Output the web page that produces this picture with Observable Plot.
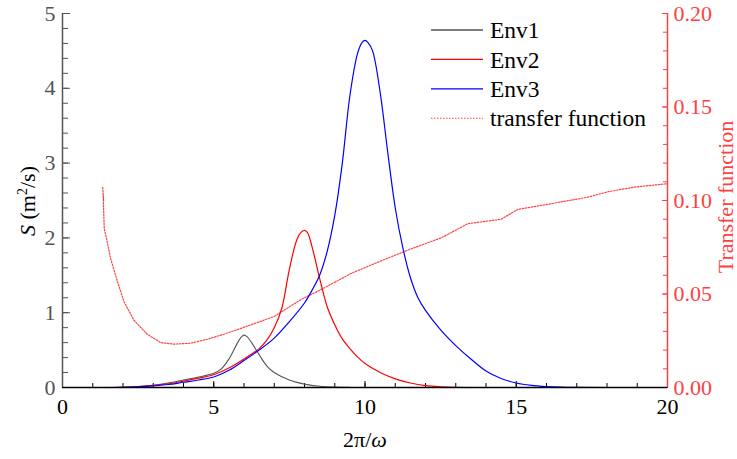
<!DOCTYPE html>
<html><head><meta charset="utf-8">
<script src="https://cdn.jsdelivr.net/npm/d3@7"></script>
<script src="https://cdn.jsdelivr.net/npm/@observablehq/plot@0.6"></script>
<style>
body{margin:0;background:#fff}
svg, svg text, svg tspan{font-family:"Liberation Serif","Times New Roman",serif !important}
</style>
</head><body><div id="chart"></div>
<script>
// ---- data ----
const env1X = [1.3,2,2.5,3,3.5,4,4.5,5,5.25,5.5,5.75,5.9,6,6.1,6.25,6.5,6.75,7,7.5,8,8.5,9,9.5,10,11];
const env1S = [0,0.003,0.012,0.03,0.06,0.1,0.14,0.19,0.25,0.38,0.57,0.67,0.70,0.68,0.60,0.44,0.29,0.2,0.1,0.045,0.016,0.005,0.001,0,0];

const env2X = [1.3,2,2.5,3,3.5,4,4.5,5,5.5,6,6.5,6.75,7,7.25,7.5,7.75,7.9,8,8.1,8.25,8.5,8.75,9,9.25,9.5,9.75,10,10.5,11,11.5,12,12.5,13,14];
const env2S = [0,0.003,0.012,0.028,0.05,0.085,0.125,0.17,0.26,0.38,0.52,0.63,0.8,1.06,1.58,1.98,2.08,2.1,2.07,1.88,1.46,1.08,0.84,0.65,0.52,0.41,0.32,0.2,0.115,0.06,0.025,0.01,0.003,0];

const env3X = [1.3,2,2.5,3,3.5,4,4.5,5,5.5,6,6.5,7,7.5,8,8.25,8.5,8.75,9,9.25,9.5,9.75,9.9,10,10.1,10.25,10.5,10.75,11,11.25,11.5,11.75,12,12.5,13,13.5,14,14.5,15,15.5,16,16.5,17,18,20];
const env3S = [0,0.002,0.009,0.022,0.04,0.07,0.1,0.14,0.23,0.36,0.5,0.66,0.88,1.13,1.3,1.5,1.82,2.3,3.0,3.9,4.46,4.61,4.64,4.61,4.5,3.95,3.15,2.4,1.87,1.47,1.2,1.03,0.77,0.56,0.38,0.22,0.12,0.06,0.028,0.012,0.004,0.001,0,0];

const tfX = [1.33,1.36,1.34,1.36,1.37,1.38,1.45,1.59,1.81,2.03,2.36,2.8,3.25,3.69,4.24,4.79,5.34,6.23,7.0,7.88,8.5,9.2,9.54,10.53,11.5,12.52,13.4,14.5,15.06,16.05,17.37,18.04,18.92,20];
const tfT = [0.107,0.100,0.104,0.095,0.090,0.085,0.080,0.069,0.057,0.046,0.036,0.0285,0.024,0.0232,0.0237,0.0258,0.0285,0.0335,0.038,0.047,0.052,0.058,0.061,0.0677,0.074,0.080,0.0876,0.090,0.0953,0.098,0.1018,0.1047,0.1072,0.109];

const xTicks = [0,5,10,15,20];
const xMinor = d3.range(0,21,1);
const yTicks = [0,1,2,3,4,5];
const yMinor = d3.range(0,26).map(i=>i*0.2);
const rTicks = [0,0.05,0.10,0.15,0.20];
const rMinor = d3.range(0,21).map(i=>i*0.01);
const names = ["Env1","Env2","Env3","transfer function"];
const colors = ["#555555","#ff0000","#0000ff","#ff4444"];
const K = 25; // right-axis (0–0.20) mapped onto left-axis (0–5)
const RED = "#ff4040";

const rows = (name, xs, ys, k=1) => xs.map((x,i)=>({name, x, y: ys[i]*k}));
const env1 = rows(names[0], env1X, env1S);
const env2 = rows(names[1], env2X, env2S);
const env3 = rows(names[2], env3X, env3S);
const tf = rows(names[3], tfX, tfT, K);

const W=737, H=459;
const font = "'Liberation Serif', 'Times New Roman', serif";
const chart = Plot.plot({
  width: W, height: H,
  marginLeft: 62, marginRight: 70, marginTop: 13, marginBottom: 72,
  style: {fontFamily: font, fontSize: "22px", background: "white", overflow: "visible"},
  x: {domain: [0,20]},
  y: {domain: [0,5]},
  marks: [
    Plot.axisX(xMinor, {tickSize: -4, tickFormat: () => "", label: null, color: "#000"}),
    Plot.axisX(xTicks, {tickSize: -6, tickPadding: 17, tickFormat: d => String(d), label: null, color: "#000", fontSize: 22}),
    Plot.axisY(yMinor, {anchor: "left", tickSize: -6, tickFormat: () => "", label: null, color: "#555"}),
    Plot.axisY(yTicks, {anchor: "left", tickSize: -8, tickPadding: 15, tickFormat: d => String(d), label: null, color: "#555", fontSize: 22}),
    Plot.axisY(rMinor.map(d=>d*K), {anchor: "right", tickSize: -5, tickFormat: () => "", label: null, color: RED}),
    Plot.axisY(rTicks.map(d=>d*K), {anchor: "right", tickSize: -6, tickPadding: 12, tickFormat: d => (d/K).toFixed(2), label: null, color: RED, fontSize: 22}),
    Plot.ruleX([0], {stroke: "#555", strokeWidth: 1.5}),
    Plot.ruleX([20], {stroke: RED, strokeWidth: 1.5}),
    Plot.line(tf, {x: "x", y: "y", stroke: colors[3], strokeWidth: 1.2, strokeDasharray: "1.5,1.5"}),
    Plot.line(env1, {x: "x", y: "y", stroke: colors[0], strokeWidth: 1.1, curve: "catmull-rom"}),
    Plot.line(env2, {x: "x", y: "y", stroke: colors[1], strokeWidth: 1.2, curve: "catmull-rom"}),
    Plot.line(env3, {x: "x", y: "y", stroke: colors[2], strokeWidth: 1.2, curve: "catmull-rom"}),
    Plot.ruleY([0], {stroke: "#000", strokeWidth: 1.6})
  ]
});
document.getElementById("chart").appendChild(chart);

// ---- titles and legend ----
const svg = d3.select(chart);
const xt = svg.append("text").attr("x", 365).attr("y", 447).attr("text-anchor","middle")
  .attr("font-family", font).attr("font-size", 22).attr("fill", "#000");
xt.append("tspan").text("2π/");
xt.append("tspan").attr("font-style","italic").text("ω");

const yt = svg.append("text").attr("transform","translate(35,201) rotate(-90)").attr("text-anchor","middle")
  .attr("font-family", font).attr("font-size", 22).attr("fill", "#000");
yt.append("tspan").attr("font-style","italic").text("S");
yt.append("tspan").text(" (m");
yt.append("tspan").attr("font-size", 14).attr("dy", -8).text("2");
yt.append("tspan").attr("dy", 8).text("/s)");

svg.append("text").attr("transform","translate(733,197) rotate(-90)").attr("text-anchor","middle")
  .attr("font-family", font).attr("font-size", 22).attr("fill", RED).text("Transfer function");

const lg = svg.append("g");
names.forEach((n,i) => {
  const yy = 30 + i*29.4;
  lg.append("line").attr("x1", 431).attr("x2", 483).attr("y1", yy).attr("y2", yy)
    .attr("stroke", colors[i]).attr("stroke-width", i===3 ? 1.1 : 1.3)
    .attr("stroke-dasharray", i===3 ? "1.5,1.5" : null);
  lg.append("text").attr("x", 490).attr("y", yy).attr("dy", "0.35em").attr("text-anchor", "start")
    .attr("font-family", font).attr("font-size", 23.5).attr("fill", "#000").text(n);
});
</script>
</body></html>
